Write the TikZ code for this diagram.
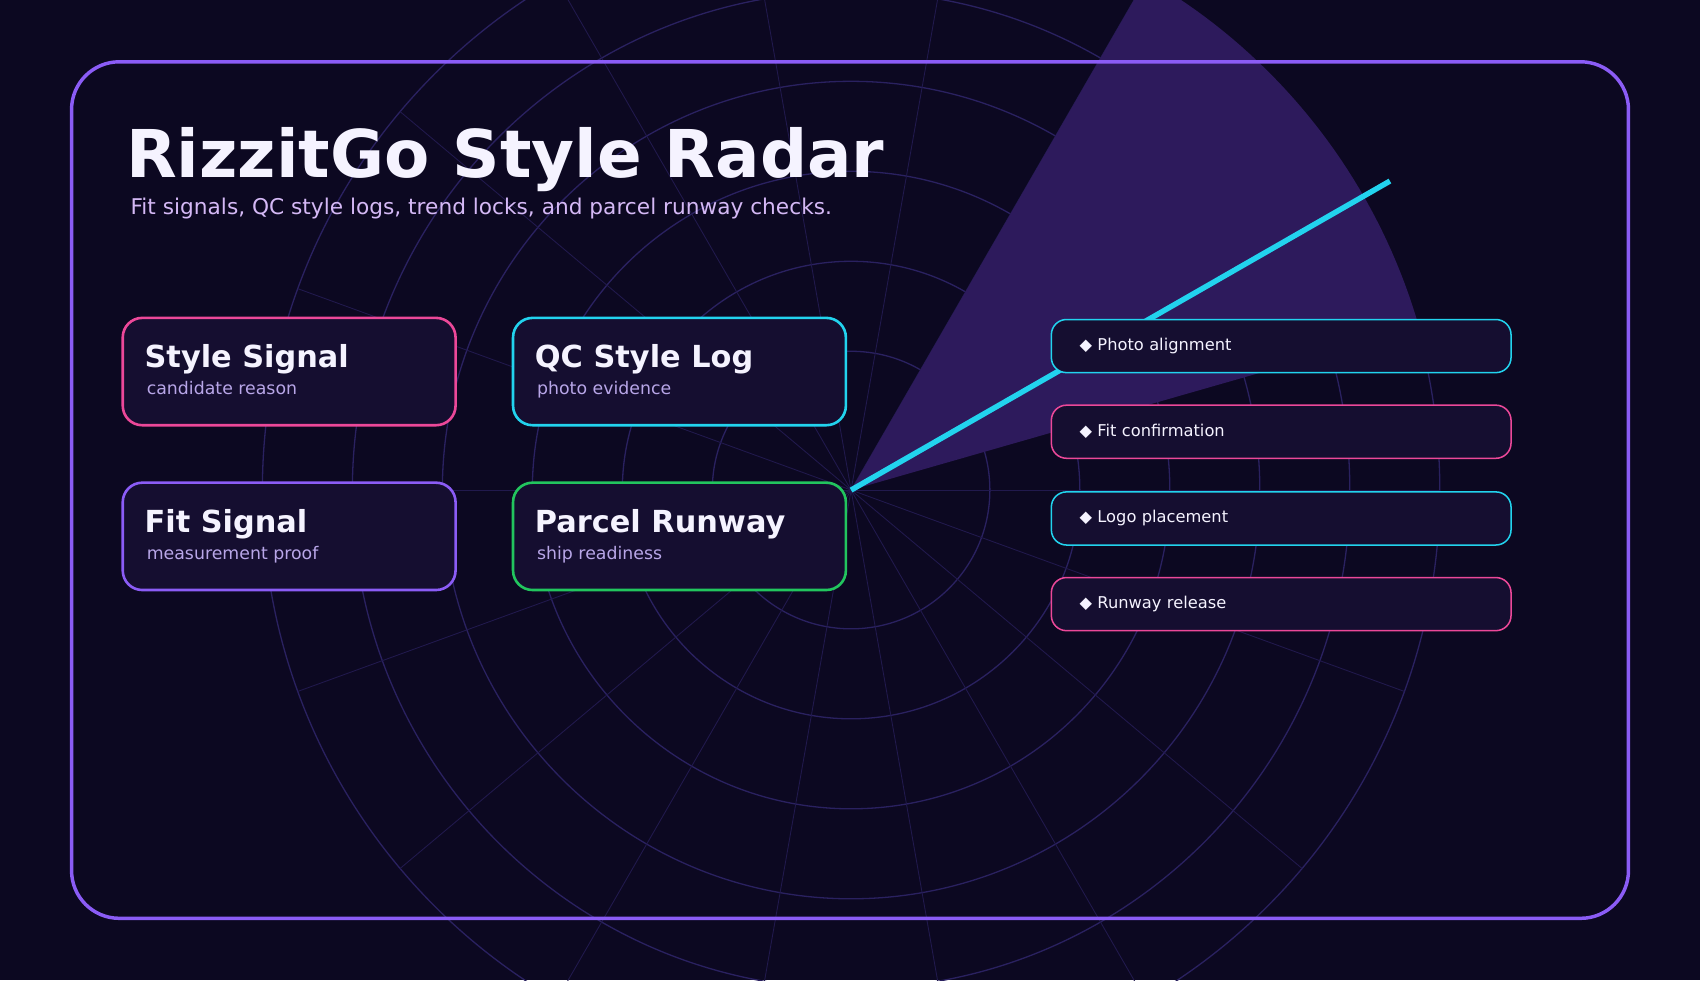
\documentclass[tikz,border=0pt]{standalone}
\usepackage{fontspec}
\setmainfont{DejaVu Sans}
\usetikzlibrary{positioning,calc}
\definecolor{bgdark}{HTML}{0C0821}
\definecolor{cardbg}{HTML}{150E30}
\definecolor{gridline}{HTML}{2A2160}
\definecolor{wedge}{HTML}{2D1A5C}
\definecolor{framec}{HTML}{8B5CF6}
\definecolor{pinkc}{HTML}{EC4899}
\definecolor{cyanc}{HTML}{22D3EE}
\definecolor{greenc}{HTML}{22C55E}
\definecolor{subc}{HTML}{B8A6E8}
\definecolor{leadc}{HTML}{D4B8F5}
\definecolor{titlec}{HTML}{F5F3FF}
\tikzset{
    card/.style={draw=#1,line width=1.2pt,fill=cardbg,rounded corners=9pt,minimum width=153.5pt,minimum height=49.5pt,anchor=north west},
    pill/.style={draw=#1,line width=0.7pt,fill=cardbg,rounded corners=7pt,minimum width=212pt,minimum height=24.5pt,anchor=north west,text=titlec,font=\fontsize{7.5}{9}\selectfont,align=left,text width=186pt,inner xsep=13pt},
    cardtitle/.style={font=\bfseries\fontsize{14}{16}\selectfont,text=titlec,anchor=base west,inner sep=0pt},
    cardsub/.style={font=\fontsize{8}{10}\selectfont,text=subc,anchor=base west,inner sep=0pt},
}
\begin{document}
\begin{tikzpicture}[x=0.5pt,y=-0.5pt]
    \fill[bgdark] (0,0) rectangle (1568,904);
    \useasboundingbox (0,0) rectangle (1568,904);
    \coordinate (c) at (785,452);
    \begin{scope}
        \clip (0,0) rectangle (1568,904);
        % grid
        \foreach \r in {128,211,294,377,460,543}
            \draw[gridline,line width=0.6pt] (c) circle[radius=\r];
        \foreach \a in {0,20,...,340}
            \draw[gridline!70!bgdark,line width=0.4pt] (c) -- ({785+543*cos(\a)},{452-543*sin(\a)});
        % radar wedge
        \fill[wedge] (c) -- plot[domain=16:60,samples=40] ({785+545*cos(\x)},{452-545*sin(\x)}) -- cycle;
        % sweep
        \draw[cyanc,line width=2.5pt] (c) -- (1282,167);
    \end{scope}
    % frame
    \draw[framec,line width=1.6pt,rounded corners=22pt] (66,57) rectangle (1502,847);
    % title
    \node[anchor=base west,inner sep=0pt,text=titlec,font=\bfseries\fontsize{30.4}{34}\selectfont] (title) at (116,164) {RizzitGo Style Radar};
    \node[anchor=base west,inner sep=0pt,text=leadc,font=\fontsize{10}{12}\selectfont] (subtitle) at (120,198) {Fit signals, QC style logs, trend locks, and parcel runway checks.};
    % cards
    \node[card=pinkc] (style) at (112,292) {};
    \node[cardtitle] at (133,339) {Style Signal};
    \node[cardsub] at (135,364) {candidate reason};
    \node[card=cyanc] (qc) at (472,292) {};
    \node[cardtitle] at (493,339) {QC Style Log};
    \node[cardsub] at (495,364) {photo evidence};
    \node[card=framec] (fit) at (112,444) {};
    \node[cardtitle] at (133,491) {Fit Signal};
    \node[cardsub] at (135,516) {measurement proof};
    \node[card=greenc] (parcel) at (472,444) {};
    \node[cardtitle] at (493,491) {Parcel Runway};
    \node[cardsub] at (495,516) {ship readiness};
    % checks
    \node[pill=cyanc] (photo) at (969,294) {◆ Photo alignment};
    \node[pill=pinkc] (fitc) at (969,373) {◆ Fit confirmation};
    \node[pill=cyanc] (logo) at (969,453) {◆ Logo placement};
    \node[pill=pinkc] (runway) at (969,532) {◆ Runway release};
\end{tikzpicture}
\end{document}
